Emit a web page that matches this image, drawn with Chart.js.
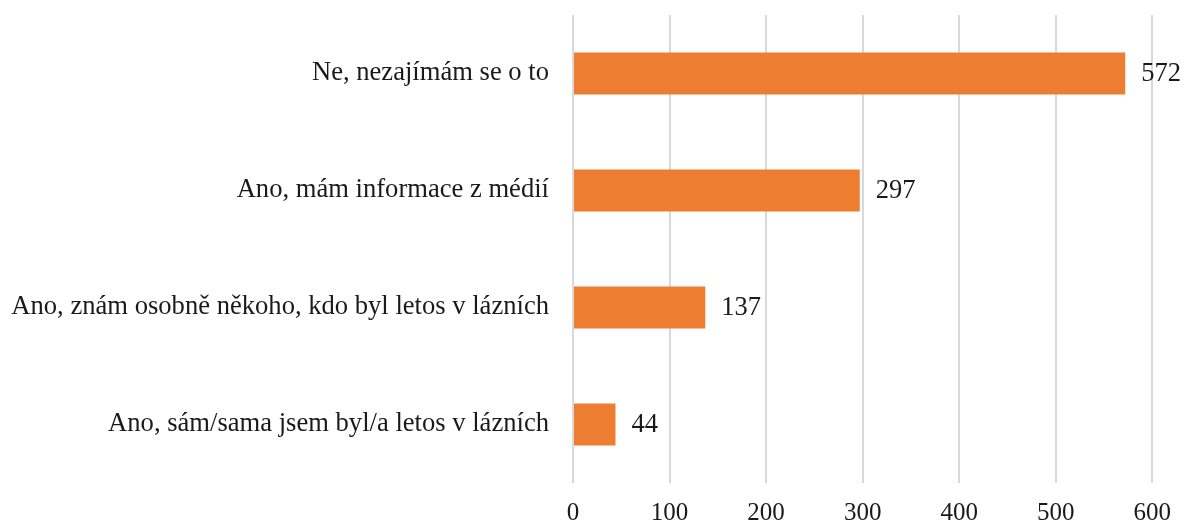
<!DOCTYPE html>
<html><head><meta charset="utf-8">
<script src="https://cdn.jsdelivr.net/npm/chart.js@4"></script>
<style>html,body{margin:0;padding:0;background:#fff}#wrap{width:1186px;height:523px}</style>
</head><body><div id="wrap"><canvas id="c" width="1186" height="523"></canvas></div>
<script>
const categories = ["Ne, nezajímám se o to","Ano, mám informace z médií","Ano, znám osobně někoho, kdo byl letos v lázních","Ano, sám/sama jsem byl/a letos v lázních"];
const values = [572, 297, 137, 44];
const xTicks = [0,100,200,300,400,500,600];

const FONT = "'Liberation Serif', 'Times New Roman', serif";
const labelPlugin = {
  id: 'valLabels',
  afterDatasetsDraw(chart) {
    const ctx = chart.ctx;
    const meta = chart.getDatasetMeta(0);
    ctx.save();
    ctx.font = "26.5px " + FONT;
    ctx.fillStyle = "#1a1a1a";
    ctx.textBaseline = "middle";
    ctx.textAlign = "left";
    meta.data.forEach((bar, i) => {
      ctx.fillText(String(values[i]), bar.x + 16, bar.y + 1);
    });
    ctx.restore();
  }
};

new Chart(document.getElementById('c'), {
  type: 'bar',
  data: { labels: categories, datasets: [{ data: values, backgroundColor: '#ED7D31', barPercentage: 0.36, categoryPercentage: 1 }] },
  options: {
    indexAxis: 'y', responsive: false, animation: false, devicePixelRatio: 1,
    layout: { padding: { top: 15, right: 33, left: 0, bottom: 0 } },
    plugins: { legend: { display: false }, tooltip: { enabled: false } },
    scales: {
      x: {
        min: 0, max: 600,
        afterBuildTicks(axis) { axis.ticks = xTicks.map(v => ({ value: v })); },
        grid: { color: '#d9d9d9', lineWidth: 2, drawTicks: false },
        border: { display: false },
        ticks: { font: { family: FONT, size: 25 }, color: '#1a1a1a', padding: 15 },
        afterFit(axis) { axis.height = 40; }
      },
      y: {
        grid: { display: false, drawTicks: false },
        border: { display: false },
        ticks: { font: { family: FONT, size: 26.6 }, color: '#1a1a1a', padding: 24 },
        afterFit(axis) { axis.width = 573; axis.paddingTop = 0; axis.paddingBottom = 0; }
      }
    }
  },
  plugins: [labelPlugin]
});
</script></body></html>
